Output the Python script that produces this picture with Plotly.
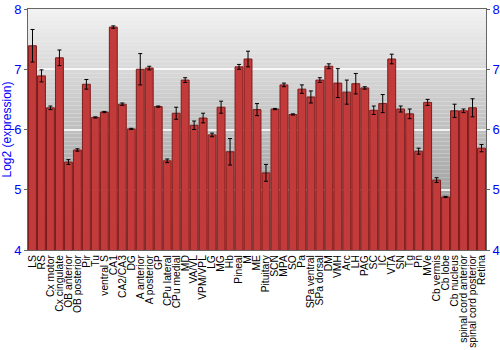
import plotly.graph_objects as go

regions = ["LS", "RS", "Cx motor", "Cx cingulate", "OB anterior", "OB posterior", "Pir", "Tu",
           "ventral S", "CA1", "CA2/CA3", "DG", "A anterior", "A posterior", "GP", "CPu lateral",
           "CPu medial", "MD", "VA/VL", "VPM/VPL", "LG", "MG", "Hb", "Pineal", "M", "ME",
           "Pituitary", "SCN", "MPA", "SO", "Pa", "SPa ventral", "SPa dorsal", "DM", "VMH", "Arc",
           "LH", "PAG", "SC", "IC", "VTA", "SN", "Tg", "Pn", "MVe", "Cb vermis", "Cb lobe",
           "Cb nucleus", "spinal cord anterior", "spinal cord posterior", "Retina"]

expression = [7.39, 6.89, 6.36, 7.19, 5.46, 5.66, 6.75, 6.20,
              6.29, 7.70, 6.42, 6.01, 7.00, 7.02, 6.38, 5.48,
              6.27, 6.82, 6.07, 6.19, 5.91, 6.37, 5.63, 7.04, 7.17, 6.33,
              5.28, 6.34, 6.74, 6.25, 6.67, 6.54, 6.82, 7.05, 6.77, 6.62,
              6.76, 6.69, 6.32, 6.43, 7.17, 6.34, 6.26, 5.64, 6.45, 5.16, 4.88,
              6.31, 6.31, 6.36, 5.69]

error = [0.27, 0.10, 0.03, 0.13, 0.04, 0.02, 0.08, 0.01,
         0.01, 0.02, 0.02, 0.01, 0.26, 0.03, 0.01, 0.03,
         0.10, 0.04, 0.07, 0.08, 0.03, 0.10, 0.22, 0.04, 0.13, 0.10,
         0.14, 0.01, 0.03, 0.01, 0.07, 0.10, 0.04, 0.04, 0.24, 0.20,
         0.17, 0.02, 0.07, 0.15, 0.08, 0.05, 0.08, 0.05, 0.05, 0.04, 0.01,
         0.11, 0.03, 0.15, 0.06]

y_ticks = [4, 5, 6, 7, 8]

fig = go.Figure()

fig.add_trace(go.Bar(
    x=regions, y=expression,
    marker=dict(color="#c23a3a", line=dict(color="#7d1c1c", width=1)),
    error_y=dict(type="data", array=error, visible=True, color="black", thickness=1, width=2),
    yaxis="y",
    showlegend=False,
))
# invisible trace to activate right axis
fig.add_trace(go.Scatter(x=regions, y=expression, yaxis="y2", mode="markers",
                         marker=dict(opacity=0), showlegend=False, hoverinfo="skip"))

# gradient background as stripes
shapes = []
n = 60
for i in range(n):
    t = i / (n - 1)
    c = int(242 - (242 - 140) * t)
    shapes.append(dict(type="rect", xref="paper", yref="paper",
                       x0=0, x1=1, y0=1 - (i + 1) / n, y1=1 - i / n,
                       fillcolor=f"rgb({c},{c},{c})", line=dict(width=0), layer="below"))
fig.update_layout(shapes=shapes)

fig.update_layout(
    width=500, height=350,
    margin=dict(l=28, r=14, t=9, b=100),
    paper_bgcolor="white",
    plot_bgcolor="rgba(0,0,0,0)",
    bargap=0.12,
    font=dict(family="Liberation Sans, Arial, sans-serif"),
    xaxis=dict(
        type="category", tickmode="array", tickvals=regions, ticktext=regions,
        range=[-0.5, len(regions) - 0.5], automargin=False,
        tickangle=-90, tickfont=dict(size=10.3, color="black"),
        showline=True, linecolor="#666", mirror=True, ticks="",
        showgrid=False,
    ),
    yaxis=dict(
        range=[4, 8], tickvals=y_ticks, tickfont=dict(size=13, color="blue"), automargin=False,
        title=dict(text="Log2 (expression)", font=dict(size=12, color="blue"), standoff=2),
        showline=True, linecolor="#666", ticks="outside", ticklen=3, tickcolor="#666",
        gridcolor="rgba(255,255,255,0.8)", gridwidth=1.5, zeroline=False,
    ),
    yaxis2=dict(
        range=[4, 8], tickvals=y_ticks, tickfont=dict(size=13, color="blue"), automargin=False,
        overlaying="y", side="right", showgrid=False, zeroline=False,
        showline=True, linecolor="#666", ticks="outside", ticklen=3, tickcolor="#666",
    ),
)

fig.write_html("out.html")
